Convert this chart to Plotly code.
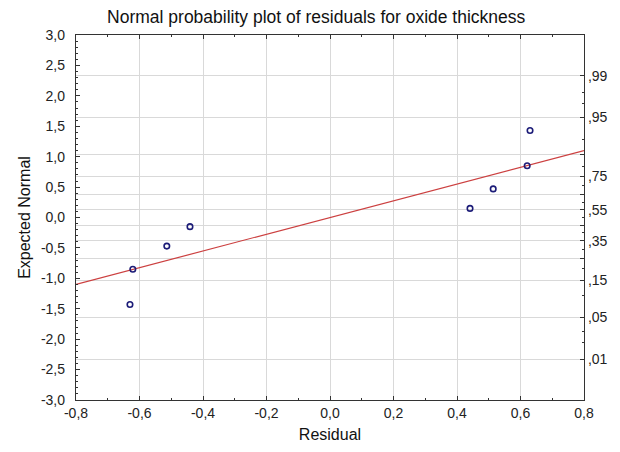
import plotly.graph_objects as go
from statistics import NormalDist

# ---- data ----
residuals = [-0.630, -0.621, -0.514, -0.441, 0.441, 0.514, 0.621, 0.630]
expected_normal = [-1.43, -0.85, -0.47, -0.15, 0.15, 0.47, 0.85, 1.43]
fit_x = [-0.8, 0.8]
fit_y = [-1.10, 1.10]

x_ticks = [-0.8, -0.6, -0.4, -0.2, 0.0, 0.2, 0.4, 0.6, 0.8]
x_labels = ["-0,8", "-0,6", "-0,4", "-0,2", "0,0", "0,2", "0,4", "0,6", "0,8"]
y_ticks = [-3.0, -2.5, -2.0, -1.5, -1.0, -0.5, 0.0, 0.5, 1.0, 1.5, 2.0, 2.5, 3.0]
y_labels = ["-3,0", "-2,5", "-2,0", "-1,5", "-1,0", "-0,5", "0,0", "0,5", "1,0", "1,5", "2,0", "2,5", "3,0"]
prob_levels = [0.01, 0.05, 0.15, 0.25, 0.35, 0.45, 0.55, 0.65, 0.75, 0.85, 0.95, 0.99]
prob_labels = [",01", ",05", ",15", "", ",35", "", ",55", "", ",75", "", ",95", ",99"]
prob_minor = [0.02, 0.03, 0.1, 0.2, 0.3, 0.4, 0.5, 0.6, 0.7, 0.8, 0.9, 0.97, 0.98]

nd = NormalDist()
prob_pos = [nd.inv_cdf(p) for p in prob_levels]
prob_minor_pos = [nd.inv_cdf(p) for p in prob_minor]

FONT = "Liberation Sans, Arial, sans-serif"
AX = "#333333"
GRID = "#d9d9d9"

fig = go.Figure()
fig.add_trace(go.Scatter(
    x=fit_x, y=fit_y, mode="lines",
    line=dict(color="#cc4040", width=1.2), showlegend=False, hoverinfo="skip"))
fig.add_trace(go.Scatter(
    x=residuals, y=expected_normal, mode="markers",
    marker=dict(symbol="circle-open", size=5.5, color="#1c1c78", line=dict(width=1.6)),
    showlegend=False))
fig.add_trace(go.Scatter(x=[None], y=[None], yaxis="y2", showlegend=False, hoverinfo="skip"))

fig.update_layout(
    width=620, height=452,
    margin=dict(l=76, r=36, t=35, b=52),
    paper_bgcolor="white", plot_bgcolor="white",
    font=dict(family=FONT, size=14, color="#222222"),
    title=dict(text="Normal probability plot of residuals for oxide thickness",
               x=0.51, xanchor="center", y=0.962, yanchor="middle",
               font=dict(family=FONT, size=17.5, color="#111111")),
    xaxis=dict(
        range=[-0.8, 0.8], tickvals=x_ticks, ticktext=x_labels,
        showgrid=True, gridcolor=GRID, gridwidth=1, zeroline=False,
        showline=True, linecolor=AX, linewidth=1.3, mirror="ticks",
        ticks="inside", ticklen=4, tickcolor=AX,
        minor=dict(dtick=0.1, ticks="inside", ticklen=2, tickcolor=AX, showgrid=False),
        title=dict(text="Residual", font=dict(size=16, color="#111111"), standoff=8),
        tickfont=dict(size=14),
    ),
    yaxis=dict(
        range=[-3, 3], tickvals=y_ticks, ticktext=y_labels,
        showgrid=False, zeroline=False,
        showline=True, linecolor=AX, linewidth=1.3,
        ticks="inside", ticklen=4, tickcolor=AX,
        ticklabelstandoff=7,
        minor=dict(dtick=0.1, ticks="inside", ticklen=2, tickcolor=AX, showgrid=False),
        title=dict(text="Expected Normal", font=dict(size=16, color="#111111"), standoff=6),
        tickfont=dict(size=14),
    ),
    yaxis2=dict(
        range=[-3, 3], overlaying="y", side="right",
        tickvals=prob_pos, ticktext=prob_labels,
        showgrid=True, gridcolor=GRID, gridwidth=1, zeroline=False,
        showline=True, linecolor=AX, linewidth=1.3,
        ticks="inside", ticklen=4, tickcolor=AX,
        minor=dict(tickvals=prob_minor_pos, ticks="inside", ticklen=2, tickcolor=AX, showgrid=False),
        tickfont=dict(size=14),
    ),
)

fig.write_html("out.html")
